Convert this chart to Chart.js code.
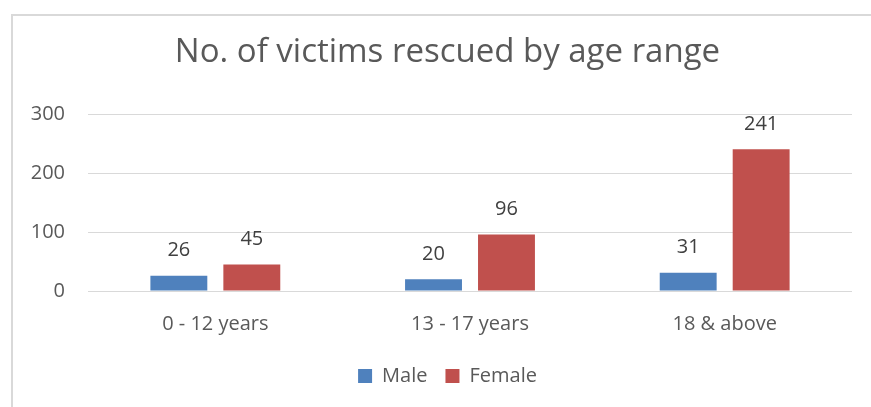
<!DOCTYPE html>
<html>
<head>
<meta charset="utf-8">
<script src="https://cdn.jsdelivr.net/npm/chart.js@4/dist/chart.umd.min.js"></script>
<style>
html,body{margin:0;padding:0;background:#fff;}
#wrap{width:871px;height:407px;position:relative;}
</style>
</head>
<body>
<div id="wrap"><canvas id="c" width="871" height="407"></canvas></div>
<script>
const categories = ["0 - 12 years", "13 - 17 years", "18 & above"];
const maleValues = [26, 20, 31];
const femaleValues = [45, 96, 241];
const yTicks = [0, 100, 200, 300];
const titleText = "No. of victims rescued by age range";

const FONT = "'Open Sans', sans-serif";

const frame = {
  id: 'frame',
  beforeDraw(chart) {
    const ctx = chart.ctx;
    ctx.save();
    ctx.fillStyle = '#fff';
    ctx.fillRect(0, 0, chart.width, chart.height);
    ctx.strokeStyle = '#D9D9D9';
    ctx.lineWidth = 2;
    ctx.beginPath();
    ctx.moveTo(12, chart.height);
    ctx.lineTo(12, 15);
    ctx.lineTo(chart.width, 15);
    ctx.stroke();
    ctx.restore();
  }
};

const dataLabels = {
  id: 'dataLabels',
  afterDatasetsDraw(chart) {
    const ctx = chart.ctx;
    ctx.save();
    ctx.font = "20px " + FONT;
    ctx.fillStyle = '#404040';
    ctx.textAlign = 'center';
    ctx.textBaseline = 'middle';
    chart.data.datasets.forEach((ds, i) => {
      chart.getDatasetMeta(i).data.forEach((bar, j) => {
        ctx.fillText(String(ds.data[j]), bar.x, bar.y - 25);
      });
    });
    ctx.restore();
  }
};

new Chart(document.getElementById('c'), {
  type: 'bar',
  data: {
    labels: categories,
    datasets: [
      { label: 'Male', data: maleValues, backgroundColor: '#4F81BD', categoryPercentage: 0.573, barPercentage: 0.78 },
      { label: 'Female', data: femaleValues, backgroundColor: '#C0504D', categoryPercentage: 0.573, barPercentage: 0.78 }
    ]
  },
  options: {
    responsive: false,
    animation: false,
    devicePixelRatio: 1,
    layout: { padding: { left: 24, right: 0, top: 0, bottom: 11 } },
    plugins: {
      title: {
        display: true,
        text: titleText,
        color: '#595959',
        font: { family: FONT, size: 33, weight: 'normal', lineHeight: 1.2 },
        padding: { top: 33, bottom: 42 }
      },
      legend: {
        position: 'bottom',
        labels: {
          color: '#595959',
          font: { family: FONT, size: 20 },
          boxWidth: 14,
          boxHeight: 14,
          padding: 18
        }
      },
      tooltip: { enabled: false }
    },
    scales: {
      x: {
        grid: { display: false },
        border: { display: false },
        afterFit(scale) { scale.height = 57; },
        ticks: { color: '#595959', font: { family: FONT, size: 20 }, padding: 13 }
      },
      y: {
        min: 0,
        max: 300,
        afterBuildTicks(scale) { scale.ticks = yTicks.map(v => ({ value: v })); },
        afterFit(scale) { scale.width = 64; },
        grid: { color: '#D9D9D9', lineWidth: 1, drawTicks: false },
        border: { display: false },
        ticks: { color: '#595959', font: { family: FONT, size: 20 }, padding: 23 }
      },
      yRight: {
        position: 'right',
        display: true,
        grid: { display: false, drawTicks: false },
        border: { display: false },
        ticks: { display: false },
        afterFit(scale) { scale.width = 19; }
      }
    }
  },
  plugins: [frame, dataLabels]
});
</script>
</body>
</html>
